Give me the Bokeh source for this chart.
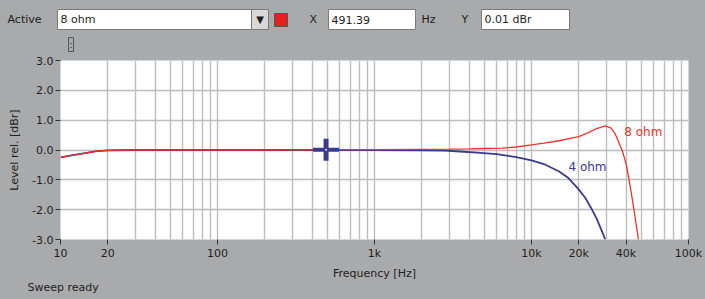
from bokeh.plotting import figure
from bokeh.layouts import column
from bokeh.models import Range1d, FixedTicker, PrintfTickFormatter
from bokeh.embed import file_html
from bokeh.resources import INLINE
from bokeh.core.properties import value

# ---------------- data ----------------
freq_8 = [10, 12, 15, 17, 20, 30, 50, 100, 200, 500, 1000, 2000, 3000, 4000, 5000, 6500,
          8000, 10000, 12000, 15000, 18000, 20000, 23000, 26000, 29500, 32000, 34000,
          36000, 38000, 40000, 42000, 44000, 46000, 48000]
level_8 = [-0.25, -0.17, -0.09, -0.04, -0.01, 0.0, 0.0, 0.0, 0.0, 0.01, 0.01, 0.02, 0.03,
           0.04, 0.05, 0.06, 0.10, 0.17, 0.23, 0.31, 0.40, 0.45, 0.58, 0.72, 0.81, 0.74,
           0.56, 0.25, -0.05, -0.45, -1.05, -1.7, -2.35, -3.0]

freq_4 = [10, 12, 15, 17, 20, 30, 50, 100, 200, 500, 1000, 2000, 2800, 3500, 4500, 6000,
          8000, 10000, 12000, 15000, 17000, 19600, 22000, 24000, 26000, 28000, 29500]
level_4 = [-0.25, -0.17, -0.09, -0.04, -0.01, 0.0, 0.0, 0.0, 0.0, 0.0, 0.0, -0.01, -0.02,
           -0.05, -0.09, -0.14, -0.24, -0.35, -0.47, -0.72, -0.92, -1.27, -1.6, -1.95,
           -2.3, -2.7, -3.0]

x_ticks = [10, 20, 100, 1000, 10000, 20000, 40000, 100000]
x_tick_labels = ["10", "20", "100", "1k", "10k", "20k", "40k", "100k"]
y_ticks = [-3, -2, -1, 0, 1, 2, 3]
grid_x = [m * 10 ** d for d in range(1, 5) for m in range(1, 10)] + [100000]

cursor_x = [491.39]
cursor_y = [0.01]

# ---------------- styles ----------------
BG = "#a9aaab"
FONT = "DejaVu Sans"
TXT = "#1e1e1e"
RED = "#e8342c"
BLUE = "#3b3a8c"

TOP_H = 55
BOT_H = 17
MAIN_H = 299 - TOP_H - BOT_H


def chrome(height):
    f = figure(width=705, height=height, x_range=Range1d(0, 705),
               y_range=Range1d(height, 0), output_backend="svg", toolbar_location=None,
               min_border=0, x_axis_location=None, y_axis_location=None,
               frame_align=False)
    f.xgrid.visible = False
    f.ygrid.visible = False
    f.background_fill_color = BG
    f.border_fill_color = BG
    f.outline_line_color = None
    return f


def box(f, l, t, r, b, fill="white", line="#7a7a7a"):
    f.quad(left=[l], right=[r], top=[t], bottom=[b], fill_color=fill, line_color=line,
           line_width=1)


def lab(f, x, y, text, size="11px", color=TXT, align="left"):
    f.text(x=[x], y=[y], text=[text], text_font=value(FONT), text_font_size=size,
           text_color=color, text_baseline="middle", text_align=align)


# ---- top control bar ----
top = chrome(TOP_H)
lab(top, 7, 19, "Active")
box(top, 57, 9, 251, 29)
box(top, 251, 9, 268, 29, fill="#d8d8d8")
lab(top, 259.5, 19, "\u25bc", size="10px", align="center")
lab(top, 60, 19, "8 ohm")
box(top, 274, 13, 287, 26, fill="#e8201c", line="#555555")
lab(top, 309, 19, "X")
box(top, 328, 9, 415, 29)
lab(top, 331, 19, "491.39")
lab(top, 421, 19, "Hz")
lab(top, 461, 19, "Y")
box(top, 481, 9, 569, 29)
lab(top, 484, 19, "0.01 dBr")
box(top, 68, 37, 73, 51, fill=None, line="#555555")
lab(top, 70.5, 44, ":", size="9px", align="center")

# ---- main chart ----
p = figure(width=705, height=MAIN_H, x_axis_type="log", output_backend="svg",
           toolbar_location=None, x_range=Range1d(10, 100000), y_range=Range1d(-3, 3),
           min_border_left=60, min_border_right=17, min_border_top=60 - TOP_H,
           min_border_bottom=MAIN_H - (60 - TOP_H) - 180, frame_align=False)
p.background_fill_color = "white"
p.border_fill_color = BG
p.outline_line_color = None

p.xaxis.ticker = FixedTicker(ticks=x_ticks)
p.xaxis.major_label_overrides = {t: l for t, l in zip(x_ticks, x_tick_labels)}
p.yaxis.ticker = FixedTicker(ticks=y_ticks)
p.yaxis.formatter = PrintfTickFormatter(format="%.1f")
for ax in (p.xaxis[0], p.yaxis[0]):
    ax.minor_tick_line_color = None
    ax.major_tick_in = 0
    ax.major_tick_out = 5
    ax.major_tick_line_color = "#333333"
    ax.axis_line_color = None
    ax.major_label_text_font = FONT
    ax.major_label_text_font_size = "11px"
    ax.major_label_text_color = TXT
    ax.axis_label_text_font = FONT
    ax.axis_label_text_font_size = "11px"
    ax.axis_label_text_font_style = "normal"
    ax.axis_label_text_color = TXT
p.xaxis.axis_label = "Frequency [Hz]"
p.yaxis.axis_label = "Level rel. [dBr]"
p.xaxis.major_label_standoff = 2
p.yaxis.major_label_standoff = 2
p.xaxis.axis_label_standoff = 4
p.yaxis.axis_label_standoff = 8

p.xgrid.ticker = FixedTicker(ticks=grid_x)
p.ygrid.ticker = FixedTicker(ticks=y_ticks)
for g in (p.xgrid[0], p.ygrid[0]):
    g.grid_line_color = "#bdbdbd"
    g.grid_line_width = 1.4

p.line(freq_4, level_4, line_color=BLUE, line_width=1.8)
p.line(freq_8, level_8, line_color=RED, line_width=1.3)

p.text(x=[39000], y=[0.6], text=["8 ohm"], text_color=RED, text_font=value(FONT),
       text_font_size="12px", text_baseline="middle", text_align="left")
p.text(x=[17200], y=[-0.57], text=["4 ohm"], text_color=BLUE, text_font=value(FONT),
       text_font_size="12px", text_baseline="middle", text_align="left")

p.rect(x=cursor_x, y=cursor_y, width=26, height=4, width_units="screen",
       height_units="screen", fill_color=BLUE, line_color=None)
p.rect(x=cursor_x, y=cursor_y, width=5, height=22, width_units="screen",
       height_units="screen", fill_color=BLUE, line_color=None)
p.rect(x=cursor_x, y=cursor_y, width=2, height=2, width_units="screen",
       height_units="screen", fill_color="#c8c0d8", line_color=None)

# ---- status line ----
bot = chrome(BOT_H)
lab(bot, 27, 5, "Sweep ready")

layout = column(top, p, bot, spacing=0, styles={"background-color": BG})
open("out.html", "w").write(file_html(layout, INLINE))
